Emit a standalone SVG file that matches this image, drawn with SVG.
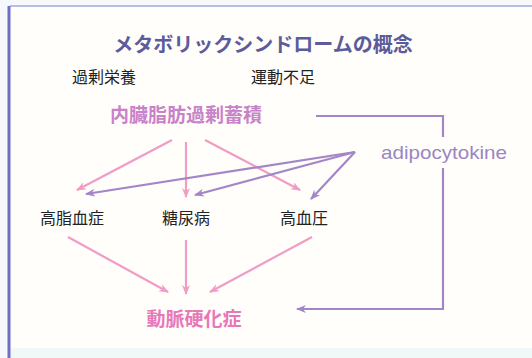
<svg xmlns="http://www.w3.org/2000/svg" width="532" height="358" viewBox="0 0 532 358">
<style>
.jp{font-family:"Noto Sans CJK JP","Noto Sans",sans-serif;}
.label{font-size:16px;fill:#222;}
.pk{stroke:#f09cc4;stroke-width:2.2;fill:none;}
.pu{stroke:#a486c8;stroke-width:2.2;fill:none;}
</style>
<defs>
<marker id="ahp" markerWidth="10" markerHeight="8" refX="9" refY="4" orient="auto" markerUnits="userSpaceOnUse"><path d="M0,0 L10,4 L0,8 L3,4 z" fill="#f09cc4"/></marker>
<marker id="ahu" markerWidth="10" markerHeight="8" refX="9" refY="4" orient="auto" markerUnits="userSpaceOnUse"><path d="M0,0 L10,4 L0,8 L3,4 z" fill="#a486c8"/></marker>
</defs>
<rect x="0" y="0" width="532" height="358" fill="#f6f8fc"/>
<rect x="10" y="6" width="522" height="344" fill="#fffefb"/>
<rect x="10" y="348" width="522" height="10" fill="#f0f8f8"/>
<line x1="10" y1="6" x2="532" y2="6" stroke="#b8bee0" stroke-width="2"/>
<line x1="9" y1="6" x2="9" y2="358" stroke="#6f6fc4" stroke-width="3"/>
<text x="263" y="52" text-anchor="middle" class="jp" font-size="20" font-weight="bold" fill="#5c5c9c">メタボリックシンドロームの概念</text>
<g id="n_overnutrition"><text x="104" y="83" text-anchor="middle" class="jp label">過剰栄養</text></g>
<g id="n_exercise"><text x="283" y="83" text-anchor="middle" class="jp label">運動不足</text></g>
<g id="n_visceral"><text x="186" y="122" text-anchor="middle" class="jp" font-size="19" font-weight="bold" fill="#c882c8">内臓脂肪過剰蓄積</text></g>
<g id="n_adipo"><text x="381" y="159" textLength="126" lengthAdjust="spacingAndGlyphs" font-family="'Liberation Sans',Arial,sans-serif" font-size="19" fill="#9a86c2">adipocytokine</text></g>
<g id="n_hyperlipidemia"><text x="72" y="224" text-anchor="middle" class="jp label">高脂血症</text></g>
<g id="n_diabetes"><text x="186" y="224" text-anchor="middle" class="jp label">糖尿病</text></g>
<g id="n_hypertension"><text x="304" y="224" text-anchor="middle" class="jp label">高血圧</text></g>
<g id="n_atherosclerosis"><text x="194" y="326" text-anchor="middle" class="jp" font-size="19" font-weight="bold" fill="#e878b8">動脈硬化症</text></g>
<g id="connectors">
<line class="pk" x1="172" y1="140" x2="77" y2="190" marker-end="url(#ahp)"/>
<line class="pk" x1="186" y1="142" x2="186" y2="197" marker-end="url(#ahp)"/>
<line class="pk" x1="205" y1="140" x2="300" y2="190" marker-end="url(#ahp)"/>
<line class="pu" x1="355" y1="152" x2="86" y2="194" marker-end="url(#ahu)"/>
<line class="pu" x1="355" y1="152" x2="195" y2="195" marker-end="url(#ahu)"/>
<line class="pu" x1="355" y1="152" x2="311" y2="199" marker-end="url(#ahu)"/>
<line class="pk" x1="68" y1="237" x2="168" y2="292" marker-end="url(#ahp)"/>
<line class="pk" x1="186" y1="240" x2="186" y2="294" marker-end="url(#ahp)"/>
<line class="pk" x1="312" y1="237" x2="210" y2="292" marker-end="url(#ahp)"/>
<polyline class="pu" points="316,116 443,116 443,137"/>
<polyline class="pu" points="443,168 443,309 297,309" marker-end="url(#ahu)"/>
</g>
</svg>
